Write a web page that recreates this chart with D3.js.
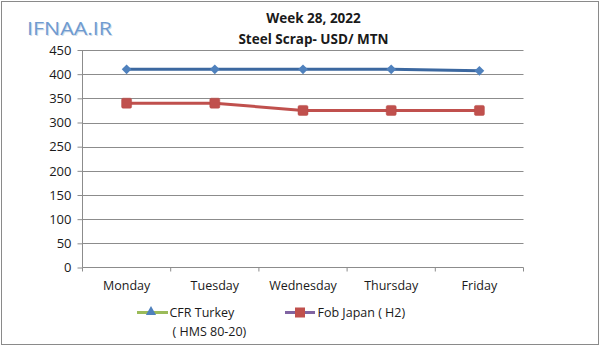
<!DOCTYPE html>
<html>
<head>
<meta charset="utf-8">
<script src="https://cdn.jsdelivr.net/npm/d3@7"></script>
<style>
  html, body { margin: 0; padding: 0; background: #fff; }
  svg { display: block; }
  text { font-family: "Open Sans", "Noto Sans", sans-serif; fill: #1a1a1a; }
</style>
</head>
<body>
<svg id="chart" width="600" height="346"></svg>
<script>
const days = ["Monday", "Tuesday", "Wednesday", "Thursday", "Friday"];
const cfrTurkey = [410, 410, 410, 410, 407];
const fobJapan = [340, 340, 325, 325, 325];
const yTicks = [0, 50, 100, 150, 200, 250, 300, 350, 400, 450];
const titleLines = ["Week 28, 2022", "Steel Scrap- USD/ MTN"];
const seriesNames = ["CFR Turkey", "( HMS 80-20)", "Fob Japan ( H2)"];
const watermark = "IFNAA.IR";

const svg = d3.select("#chart");
const W = 600, H = 346;
const pLeft = 82.5, pRight = 523.5, pTop = 50, pBottom = 267.5;

// outer border
svg.append("rect").attr("x", 1.5).attr("y", 1.5).attr("width", W - 3).attr("height", H - 3)
  .attr("fill", "#fff").attr("stroke", "#8a8a8a").attr("stroke-width", 1);

const x = d3.scaleBand().domain(days).range([pLeft, pRight]).padding(0);
const y = d3.scaleLinear().domain([0, 450]).range([pBottom, pTop]);

// gridlines
svg.append("g").selectAll("line").data(yTicks.filter(d => d > 0)).join("line")
  .attr("x1", pLeft).attr("x2", pRight)
  .attr("y1", d => Math.round(y(d)) + 0.5).attr("y2", d => Math.round(y(d)) + 0.5)
  .attr("stroke", "#8c8c8c").attr("stroke-width", 1);

// y axis
const yAxis = d3.axisLeft(y).tickValues(yTicks).tickSize(5).tickPadding(6);
const gy = svg.append("g").attr("transform", `translate(${pLeft},0)`).call(yAxis);
gy.select(".domain").attr("stroke", "#8c8c8c").attr("d", `M0,${pTop}V${pBottom}`);
gy.selectAll(".tick line").attr("stroke", "#8c8c8c");
gy.selectAll(".tick text").style("font-size", "13px").attr("fill", "#1a1a1a");

// x axis
const xAxis = d3.axisBottom(x).tickSize(0).tickPadding(14);
const gx = svg.append("g").attr("transform", `translate(0,${pBottom})`).call(xAxis);
gx.select(".domain").attr("stroke", "#8c8c8c").attr("d", `M${pLeft},0H${pRight}`);
gx.selectAll(".tick text").style("font-size", "12.5px").attr("fill", "#1a1a1a");
// category boundary ticks
const bounds = days.map(d => x(d)).concat([pRight]);
gx.selectAll(".bnd").data(bounds).join("line").attr("class", "bnd")
  .attr("x1", d => d).attr("x2", d => d).attr("y1", 0).attr("y2", 4)
  .attr("stroke", "#8c8c8c");

const cx = d => x(d) + x.bandwidth() / 2;
const line = d3.line().x((d, i) => cx(days[i])).y(d => y(d));

// CFR Turkey line
svg.append("path").datum(cfrTurkey).attr("d", line)
  .attr("fill", "none").attr("stroke", "#3c68a0").attr("stroke-width", 3);
svg.append("g").selectAll("path").data(cfrTurkey).join("path")
  .attr("d", d3.symbol(d3.symbolDiamond2 || d3.symbolDiamond, 60))
  .attr("transform", (d, i) => `translate(${cx(days[i])},${y(d)})`)
  .attr("fill", "#4f81bd");

// Fob Japan line
svg.append("path").datum(fobJapan).attr("d", line)
  .attr("fill", "none").attr("stroke", "#c0504d").attr("stroke-width", 3);
svg.append("g").selectAll("rect").data(fobJapan).join("rect")
  .attr("x", (d, i) => cx(days[i]) - 5).attr("y", d => y(d) - 5)
  .attr("width", 10).attr("height", 10).attr("rx", 1.5)
  .attr("fill", "#c0504d").attr("stroke", "#b84a47").attr("stroke-width", 0.5);

// title
svg.append("text").attr("x", 313.5).attr("y", 23).attr("text-anchor", "middle")
  .style("font-size", "13.5px").style("font-weight", "bold").text(titleLines[0]);
svg.append("text").attr("x", 313.5).attr("y", 43.5).attr("text-anchor", "middle")
  .style("font-size", "13.5px").style("font-weight", "bold").text(titleLines[1]);

// watermark
svg.append("text").attr("x", 27).attr("y", 35).attr("textLength", 85).attr("lengthAdjust", "spacingAndGlyphs")
  .style("font-size", "18.5px").style("fill", "#d0dcea").attr("transform", "translate(1,1)").text(watermark);
svg.append("text").attr("x", 27).attr("y", 35).attr("textLength", 85).attr("lengthAdjust", "spacingAndGlyphs")
  .style("font-size", "18.5px").style("fill", "#6f9bd0").text(watermark);

// legend
const ly = 312.5;
const lg = svg.append("g");
lg.append("line").attr("x1", 137).attr("x2", 168).attr("y1", ly).attr("y2", ly)
  .attr("stroke", "#9bbb59").attr("stroke-width", 3);
lg.append("path").attr("d", d3.symbol(d3.symbolTriangle, 45))
  .attr("transform", `translate(151,${ly - 0.5})`).attr("fill", "#4f81bd");
lg.append("text").attr("x", 169.5).attr("y", ly + 4.5).style("font-size", "12.5px").text(seriesNames[0]);
lg.append("text").attr("x", 172.5).attr("y", ly + 23).style("font-size", "12.5px").text(seriesNames[1]);

lg.append("line").attr("x1", 285).attr("x2", 315).attr("y1", ly).attr("y2", ly)
  .attr("stroke", "#8064a2").attr("stroke-width", 3);
lg.append("rect").attr("x", 295).attr("y", ly - 5).attr("width", 10).attr("height", 10)
  .attr("fill", "#c0504d");
lg.append("text").attr("x", 317.5).attr("y", ly + 4.5).style("font-size", "12.5px").text(seriesNames[2]);
</script>
</body>
</html>
